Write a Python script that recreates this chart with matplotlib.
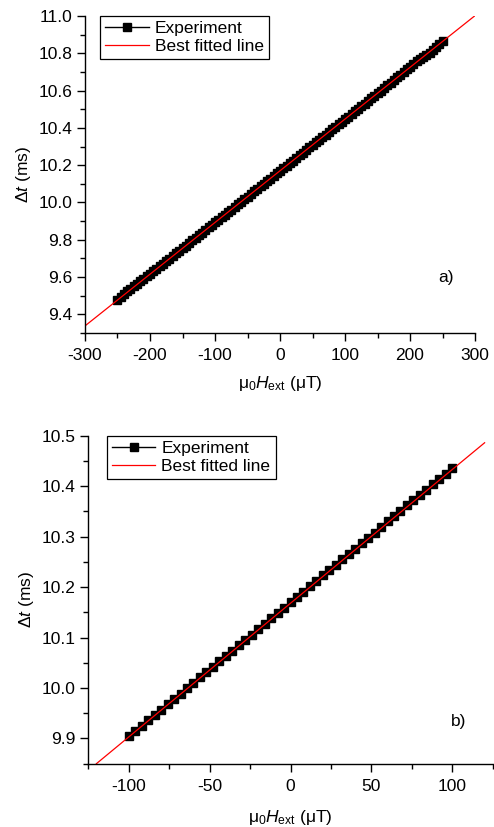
import matplotlib
matplotlib.use("Agg")
import matplotlib.pyplot as plt
import numpy as np
from matplotlib.ticker import MultipleLocator

plt.rcParams['font.family'] = ['Liberation Sans', 'DejaVu Sans']
plt.rcParams['mathtext.fontset'] = 'custom'
plt.rcParams['mathtext.rm'] = 'Liberation Sans'
plt.rcParams['mathtext.it'] = 'Liberation Sans:italic'
plt.rcParams['mathtext.bf'] = 'Liberation Sans:bold'
plt.rcParams['axes.unicode_minus'] = False

# ---------------- Panel a data ----------------
field_a = [-250, -245, -240, -235, -230, -225, -220, -215, -210, -205,
           -200, -195, -190, -185, -180, -175, -170, -165, -160, -155,
           -150, -145, -140, -135, -130, -125, -120, -115, -110, -105,
           -100, -95, -90, -85, -80, -75, -70, -65, -60, -55,
           -50, -45, -40, -35, -30, -25, -20, -15, -10, -5,
           0, 5, 10, 15, 20, 25, 30, 35, 40, 45,
           50, 55, 60, 65, 70, 75, 80, 85, 90, 95,
           100, 105, 110, 115, 120, 125, 130, 135, 140, 145,
           150, 155, 160, 165, 170, 175, 180, 185, 190, 195,
           200, 205, 210, 215, 220, 225, 230, 235, 240, 245, 250]
dt_a = [9.475, 9.492, 9.508, 9.523, 9.537, 9.551, 9.565, 9.578, 9.591, 9.604,
        9.617, 9.630, 9.644, 9.657, 9.671, 9.685, 9.699, 9.713, 9.727, 9.741,
        9.755, 9.769, 9.783, 9.797, 9.810, 9.824, 9.838, 9.852, 9.866, 9.880,
        9.893, 9.907, 9.921, 9.935, 9.949, 9.962, 9.976, 9.990, 10.004, 10.018,
        10.031, 10.045, 10.059, 10.073, 10.087, 10.101, 10.115, 10.128, 10.142, 10.156,
        10.170, 10.184, 10.198, 10.212, 10.225, 10.239, 10.253, 10.267, 10.281, 10.295,
        10.309, 10.323, 10.336, 10.350, 10.364, 10.378, 10.392, 10.406, 10.420, 10.433,
        10.447, 10.461, 10.475, 10.489, 10.503, 10.517, 10.530, 10.544, 10.558, 10.572,
        10.586, 10.600, 10.614, 10.628, 10.642, 10.656, 10.671, 10.685, 10.700, 10.714,
        10.728, 10.742, 10.756, 10.769, 10.782, 10.793, 10.803, 10.819, 10.836, 10.852, 10.868]
fit_a_slope = 0.002773
fit_a_intercept = 10.170
fit_a_range = [-300, 300]

# ---------------- Panel b data ----------------
field_b = [-100, -96, -92, -88, -84, -80, -76, -72, -68, -64,
           -60, -56, -52, -48, -44, -40, -36, -32, -28, -24,
           -20, -16, -12, -8, -4, 0, 4, 8, 12, 16,
           20, 24, 28, 32, 36, 40, 44, 48, 52, 56,
           60, 64, 68, 72, 76, 80, 84, 88, 92, 96, 100]
dt_b = [9.904, 9.915, 9.925, 9.936, 9.947, 9.957, 9.968, 9.978, 9.989, 10.000,
        10.010, 10.021, 10.032, 10.042, 10.053, 10.064, 10.074, 10.085, 10.096, 10.106,
        10.117, 10.127, 10.138, 10.149, 10.159, 10.170, 10.181, 10.191, 10.202, 10.213,
        10.223, 10.234, 10.244, 10.255, 10.266, 10.276, 10.287, 10.298, 10.308, 10.319,
        10.330, 10.340, 10.351, 10.362, 10.372, 10.383, 10.393, 10.404, 10.415, 10.425, 10.436]
fit_b_slope = 0.00265
fit_b_intercept = 10.168
fit_b_range = [-120, 120]

FS = 12.5
W, H = 494, 827
fig = plt.figure(figsize=(W / 100, H / 100), dpi=100)

ax_a = fig.add_axes([85 / W, 1 - 333 / H, (475 - 85) / W, (333 - 16) / H])
ax_b = fig.add_axes([88.3 / W, 1 - 763.7 / H, (492.7 - 88.3) / W, (763.7 - 435.7) / H])

xlabel = r'$\mathrm{μ}_0H_{\mathrm{ext}}$ (μT)'
ylabel = r'Δ$t$ (ms)'


def style(ax):
    for s in ['top', 'right']:
        ax.spines[s].set_visible(False)
    for s in ['left', 'bottom']:
        ax.spines[s].set_linewidth(1.0)
    ax.tick_params(which='major', direction='out', length=6, width=1.0,
                   labelsize=FS)
    ax.tick_params(axis='x', which='major', pad=5)
    ax.tick_params(axis='y', which='major', pad=3)
    ax.tick_params(which='minor', direction='out', length=3.5, width=1.0)


def legend(ax, xoff):
    leg = ax.legend(loc='upper left', bbox_to_anchor=(xoff, 1.0), fontsize=FS,
                    numpoints=1, frameon=True, fancybox=False, framealpha=1,
                    edgecolor='black', handlelength=2.5, handletextpad=0.35,
                    borderpad=0.3, labelspacing=0.15, borderaxespad=0.0)
    leg.get_frame().set_linewidth(0.9)


# Panel a
ax_a.plot(field_a, dt_a, color='black', lw=1.0, marker='s', ms=5.8,
          mec='black', mfc='black', label='Experiment')
fx = np.array(fit_a_range)
ax_a.plot(fx, fit_a_intercept + fit_a_slope * fx, color='red', lw=0.9,
          label='Best fitted line')
ax_a.set_xlim(-300, 300)
ax_a.set_ylim(9.3, 11.0)
ax_a.xaxis.set_major_locator(MultipleLocator(100))
ax_a.xaxis.set_minor_locator(MultipleLocator(50))
ax_a.set_yticks([9.4, 9.6, 9.8, 10.0, 10.2, 10.4, 10.6, 10.8, 11.0])
ax_a.set_yticklabels(['9.4', '9.6', '9.8', '10.0', '10.2', '10.4', '10.6', '10.8', '11.0'])
ax_a.yaxis.set_minor_locator(MultipleLocator(0.1))
style(ax_a)
ax_a.set_xlabel(xlabel, fontsize=FS, labelpad=8)
ax_a.set_ylabel(ylabel, fontsize=FS, labelpad=4)
ax_a.text(0.925, 0.175, 'a)', transform=ax_a.transAxes, fontsize=FS,
          ha='center', va='center')
legend(ax_a, 15 / 390)

# Panel b
ax_b.plot(field_b, dt_b, color='black', lw=1.0, marker='s', ms=5.2,
          mec='black', mfc='black', label='Experiment')
fx = np.array(fit_b_range)
ax_b.plot(fx, fit_b_intercept + fit_b_slope * fx, color='red', lw=0.9,
          label='Best fitted line')
ax_b.set_xlim(-125, 125)
ax_b.set_ylim(9.85, 10.5)
ax_b.xaxis.set_major_locator(MultipleLocator(50))
ax_b.xaxis.set_minor_locator(MultipleLocator(25))
ax_b.set_yticks([9.9, 10.0, 10.1, 10.2, 10.3, 10.4, 10.5])
ax_b.set_yticklabels(['9.9', '10.0', '10.1', '10.2', '10.3', '10.4', '10.5'])
ax_b.yaxis.set_minor_locator(MultipleLocator(0.05))
style(ax_b)
ax_b.set_xlabel(xlabel, fontsize=FS, labelpad=10)
ax_b.set_ylabel(ylabel, fontsize=FS, labelpad=4)
ax_b.text(0.915, 0.13, 'b)', transform=ax_b.transAxes, fontsize=FS,
          ha='center', va='center')
legend(ax_b, 18.4 / 404.4)

fig.savefig('out.png', dpi=100)
